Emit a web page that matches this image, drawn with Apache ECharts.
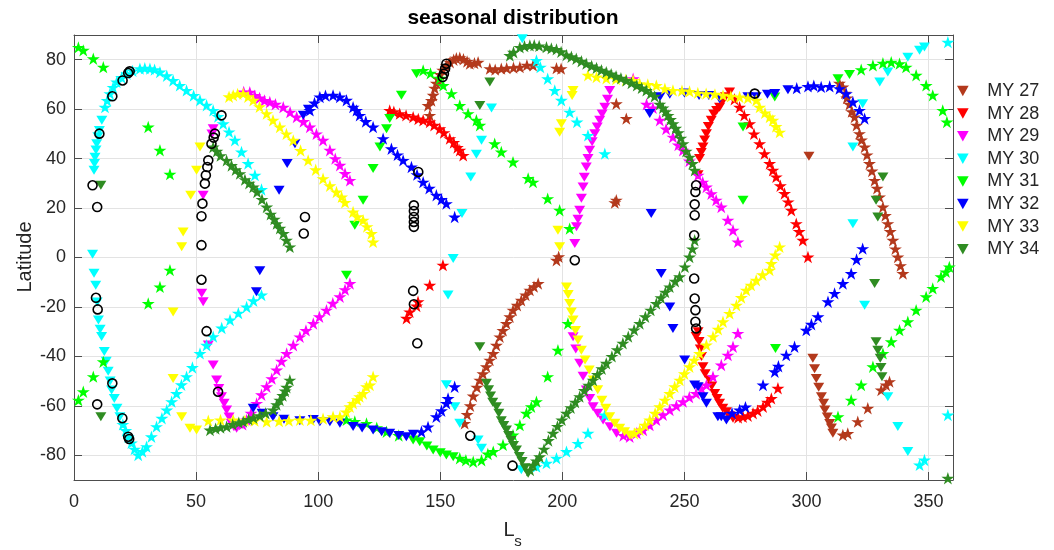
<!DOCTYPE html>
<html>
<head>
<meta charset="utf-8">
<script src="https://cdn.jsdelivr.net/npm/echarts@6/dist/echarts.min.js"></script>
<style>
  html, body { margin: 0; padding: 0; background: #fff; }
  #chart { width: 1054px; height: 550px; }
</style>
</head>
<body>
<div id="chart"></div>
<script>
// Mars years shown in the legend
const years = ['MY 27', 'MY 28', 'MY 29', 'MY 30', 'MY 31', 'MY 32', 'MY 33', 'MY 34'];
const colors = ['#B3391C', '#FF0000', '#FF00FF', '#00FFFF', '#00FF00', '#0000FF', '#FFFF00', '#2F8C22'];

const lsTicks = [0, 50, 100, 150, 200, 250, 300, 350];
const latTicks = [-80, -60, -40, -20, 0, 20, 40, 60, 80];

// every point is [Ls, latitude]
const my27Tri = [[301,41],[302.6,-40.8],[303.3,-45],[304,-48.9],[305,-52.5],[306.1,-56.3],[307,-59],[307.5,-61.7],[308.5,-64.5],[309.5,-67.1],[310.2,-69],[310.8,-71.1]];
const my27Star = [[145,61.5],[145.7,57.5],[146.4,63.5],[147.1,65.6],[147.7,68.5],[148.4,70.5],[149.1,72.3],[150,74],[151,75.8],[152.5,77.7],[154,79],[155.5,80],[156.6,80.6],[158,80.8],[159.5,80.2],[161,79.3],[162.1,78.4],[164,78.6],[165.5,79],
  [170.3,76.4],[172.5,76],[175,76.4],[177.2,76.6],[180,76.8],[182.6,77],[185.5,77.8],[188,77.7],[197.6,76.6],[199.5,76.4],
  [197.6,-1.1],[198.5,0.3],[222.1,62.2],[226.2,56.2],[222.1,23.2],[221.5,22.2],
  [160,-67.1],[161,-63.5],[162.3,-60],[163.5,-56],[165,-52.5],[166.2,-49.6],[167.5,-47],[168.9,-44.2],[170.3,-41.5],[171.7,-38.8],[173,-35.5],[174.4,-32.1],[175.7,-29.5],[177.1,-26.7],[178.5,-24],[179.8,-21.3],[181.5,-19.3],[183.2,-17.3],[185,-15.2],[186.7,-13.2],[188.4,-11.8],[190.1,-10.5],
  [313.5,70.5],[314.9,69],[315.8,66.5],[316.5,64.5],[317.6,62],[318.5,59],[319.7,56.8],[320.5,53.5],[321.7,50.1],[322.5,47.5],[323.8,44.7],[324.8,41.5],[325.8,38],[326.8,35],[327.9,31.2],[328.9,28],[329.9,24.5],[331.3,20.4],[332.3,17],[333.3,13.7],[334.3,10.5],[335.4,7],[336.4,3.5],[337.4,0.2],[338.5,-3.3],[339.5,-6.5],
  [314.9,-71.8],[316.9,-71.2],[321,-66.4],[325.1,-61],[330.6,-53.6],[332.6,-51.6],[334,-50.2]];

const my28Tri = [[255.6,33.5],[256.2,40],[256.9,42.5],[257.6,44.7],[258.3,47.5],[259,50.1],[259.8,53],[261,55.5],[262,58],[263.2,59.5],[264.4,60.8],[265.5,63],[266.8,65],[268.5,66.9],
  [254.8,-32],[255.6,-30],[256,-34],[256.5,-37],[257,-40],[257.6,-44.2],[258.5,-47],[260.3,-49.6],[261.2,-52],[262.4,-55],[263.4,-57],[264.4,-59],[265.7,-61],[267.2,-62.4],[268.5,-64],[269.9,-65]];
const my28Star = [[129.3,59.5],[131,59],[133.4,58.2],[136,57.5],[138.9,56.8],[141,56],[143,55.5],[145.7,54.8],[147.5,53.5],[149.8,52.1],[151.5,50.5],[153.9,48.1],[155.5,46.5],[157,44.5],[158,43.4],[159.4,41.3],
  [151.1,-3.1],[145.7,-11.2],[140.9,-17.9],[140.3,-19.6],[137.5,-22],[136.2,-24.6],
  [270.5,64],[272.6,60.8],[274.5,57.5],[276.7,54.1],[278.5,50],[280.8,46],[282.8,42],[284.9,38],[286.2,35.3],[287.6,32.6],[289.3,29],[291,25.9],[292.5,22.5],[293.8,19.1],[295.8,13.7],[297,10.5],[298.5,7],[300.6,0.2],
  [272,-64.7],[274,-64.4],[276,-64],[278.1,-63],[280,-62],[282.2,-60.4],[284,-58.5],[285.6,-57],[288.3,-52.9]];

const my29Tri = [[57,52.1],[56.5,50],[52.9,25.2],[52.3,-14.5],[52.9,-17.9],[55,-35.4],[57,-43.5],[58.4,-49.6],[59.3,-53],[60.4,-56.3],[61.5,-59],[62.5,-61.7],[63.5,-64.5],[64.5,-67.1],[65.5,-68.5],[66.6,-69.1],
  [219.4,67.6],[218.5,64],[217.4,60.8],[216.3,58],[215.3,55.5],[214.3,52.8],[213.3,50.1],[212.2,46.8],[211.2,43.4],[210.5,40],[209.8,36.6],[209,32.5],[208.5,28.5],[207.8,24],[207.1,19.1],[206.4,15.5],[205.8,12.4],[205.1,5.7],
  [204.4,-32.1],[205.5,-37],[207.1,-42.8],[208.5,-48],[209.8,-53.6],[211.2,-57],[212.6,-60.4],[214.5,-63],[216.7,-65.7],[219.5,-68.5],[222.2,-71.1]];
const my29Star = [[69.5,67],[72,66.9],[74,65.5],[76,64.5],[78,63.5],[80.2,62.9],[82.5,62],[85.7,60.8],[88.5,58.8],[91.2,56.8],[94,55],[96.6,52.8],[99.3,50],[102,47.4],[104.8,43.4],[107,40],[108.9,37.3],[111,34],[113,31.2],
  [69,-67.5],[70.7,-65.7],[72.5,-63],[74.8,-59],[76.8,-55.5],[78.9,-52.3],[81,-49],[83,-45.5],[85,-42],[87.1,-38.8],[89.8,-35.5],[92.5,-32.1],[95,-29.5],[98,-26.7],[100.5,-24],[103.4,-21.3],[106,-18.5],[108.9,-15.9],[111,-13],[113,-10.5],
  [229,72.3],[234.5,62],[237.1,60.5],[239.9,55.5],[242.5,52],[245.3,48.7],[247.5,45.5],[249.4,43.4],[252,39],[255.6,33.3],[257.5,30.5],[259,28.5],[261,25.8],[263,23.2],[265.1,20.4],[267.8,15.1],[269.9,11],[271.9,6.3],
  [225,-72],[227.6,-72.5],[230.5,-71],[233.1,-69.8],[235.8,-67.8],[238.5,-65.7],[241.2,-63.6],[244,-61.7],[246.7,-60],[249.4,-58.3],[252,-56.5],[254.8,-55],[257,-53],[259,-51.6],[261.7,-48.2],[265.1,-43.5],[267.8,-39.5],[269.9,-36.1],[271.9,-30.7]];

const my30Tri = [[8.2,35.3],[8.4,38],[8.6,40.6],[9,43.5],[9.3,46],[9.8,48.8],[10.4,51.4],[11.4,55.5],
  [7.6,1.3],[8.2,-6.4],[8.9,-11.2],[9.5,-18],[10,-25.3],[10.7,-29],[11.3,-32],[12.4,-38],[13.2,-42],[14,-46],[14.8,-50],[15.4,-53.6],[16.5,-57],[17.6,-61],[18.8,-64.4],
  [183.6,88.5],[171,60.5],[166.9,47.4],[164.8,41.8],[162.5,32.6],[158.9,17.8],[155.3,-0.4],[153.2,-15.2],[152.5,-51.5],[156,-60.4],[158,-67],[165.5,-73.8],[166.9,-77.2],[183.2,-85.9],
  [323,62.2],[319,44.7],[319,13.7],[330,71],[333.3,75],[341.5,81],[346.3,83.8],[348.3,85.1],[323.8,-19.3],[333.3,-56.3],[337.4,-68.4],[341.5,-78.5]];
const my30Star = [[20,-67.5],[21.2,-70],[22.2,-72.5],[23.5,-75],[24.8,-77.5],[26.3,-79.9],[28,-78.5],[29.7,-76.5],[31.7,-72.5],[33.8,-68.4],[36,-65],[38,-61.7],[40,-58.3],[42,-55],[44,-51.5],[46.1,-48.2],[48.5,-44.5],[51.6,-38.8],[54.3,-35.5],[57,-32],[60.5,-28.5],[63.9,-25.3],[67.3,-22.5],[70.7,-20],[73.5,-17.5],[76.8,-15.2],
  [12.7,60.8],[13.6,63.5],[14.7,66.3],[16,68.8],[17.5,71],[19.5,72.8],[21.6,74.3],[24,75.5],[27,76.4],[29,76.6],[31.1,76.4],[33,76],[35.2,75],[38,73.5],[40.6,71.6],[43.3,69.6],[46.1,67.6],[49,65.5],[51.6,63.6],[54.3,61.6],[57,59.5],[59,57],[61.1,54.1],[63.5,50.8],[65.9,47.4],[68.6,42.7],[71.3,38],[74.1,33.3],[76.8,27.5],
  [189.4,79.7],[191,77],[194,72.3],[196.9,67.6],[199.6,63.6],[203,58.8],[206,54.8],[210.5,49.4],[217.4,42],
  [189.4,-84.6],[193.5,-83.2],[197.6,-81.2],[201.7,-78.5],[206.4,-75.2],[210.5,-71.1],[217.4,-63.7],
  [357.9,87.1],[346.3,-83.9],[348.3,-81.9],[357.9,-63.7]];

const my31Tri = [[111.6,-7.2],[115,13],[118.4,23.2],[122.5,36],[125.3,44.7],[128,52.1],[129.3,56.2],[134.1,65.6],[140.3,74.3],
  [138.9,-73.8],[141.6,-74.5],[144.5,-76.2],[147.1,-77.9],[150,-79],[152.5,-79.9],[155.3,-80.6],
  [274,52.8],[274,23.2],[287,64.9],[287.3,-36.8],[312.9,72.3],[317.6,74]];
const my31Star = [[1.8,85],[3.8,83.8],[7.9,80.4],[12,77],[30.4,52.8],[35.2,43.4],[39.3,33.7],[39.3,-5.1],[35.2,-11.9],[30.4,-18.6],[12,-42.2],[7.9,-48.2],[3.8,-54.3],[1.8,-57.7],
  [111.6,-65.7],[115,-66.3],[119.8,-67.1],[124,-68.8],[128,-70.5],[133,-72],[158,-81.2],[160.5,-82],[163.5,-82.6],[166.9,-82],
  [169.5,-79.5],[171.7,-78.5],[175.7,-75.8],[179.8,-71.8],[182.6,-67.8],[185.3,-63],[187.3,-60.4],[189.4,-58.3],[194,-48.2],[198.2,-37.5],[202.3,-26.7],
  [203,11.7],[198.9,19.1],[194,23.8],[188,30.5],[186,32],[179.8,38.6],[175,42.7],[172.3,46],[166.2,53.5],[164.8,55.5],[161.4,58.2],[158,61.5],[154.6,66.3],[151.2,69.6],[149.8,72.5],[146,74.5],[143,75.7],
  [322.4,76],[327.2,77.7],[331.3,78.6],[334.7,79],[338.1,78.4],[340.8,77],[344.9,73.7],[349,69.6],[351.7,65.6],[355.8,59.5],[357.5,54.8],
  [312.9,-64.4],[318.3,-57.7],[322.4,-51.6],[327.2,-44.2],[331.3,-38.8],[334.7,-34.1],[338.1,-29.4],[341.5,-26],[344.9,-21.3],[349,-15.9],[351.7,-12.5],[355.1,-7.8],[357.1,-5.8],[358.5,-3.8]];

const my32Tri = [[93.9,57.5],[96,60],[90.5,46],[87.3,38],[84,27.2],[76.1,-5.4],[74.7,-13.9],
  [73.4,-61],[77,-63],[81.5,-64.4],[86,-65.4],[92.5,-66],[98,-65.5],[100.7,-66.4],[104.8,-66.4],[108.9,-67],[114.3,-68.4],[118,-69],[122.5,-69.8],[126,-70.5],[129.3,-71.1],[133,-72],[136.1,-72.5],[139,-71.5],
  [235.8,58.2],[236.4,17.8],[240,65],[244,66],[250,66.5],[256,65.5],[260,65.5],[264.4,64.2],[276,65],[279.4,65],[284,66],[287,66.3],[292.4,67.9],
  [240.5,-6.5],[244,-20],[245.3,-28.7],[250.1,-41.5],[254.2,-51.6],[255.6,-52.3],[257.6,-56.3],[259,-59],[263.7,-64.4],[265.1,-64.4],[267.2,-65.7]];
const my32Star = [[96.6,59.5],[98.5,62.5],[100.7,64.9],[103,65.5],[106.1,65.6],[108.9,64.9],[111.6,63.6],[114.3,60.8],[115.7,59.5],[117,57.5],[119.5,55],[122.5,52.8],[126.6,48.1],[130,44],[132.5,41.5],[134.8,39.3],[138.2,36.6],[140.5,33.5],[143,30.5],[145.5,28],[148.4,25.2],[150.5,23.5],[152.5,21.8],[155.9,16.4],
  [142.3,-70.5],[145,-68.5],[148.4,-64.4],[150.5,-62],[152.5,-59],[153.2,-57],[155.9,-52.3],
  [296,68.5],[300.6,69.2],[303,69.5],[306,69],[309.5,69.2],[313.5,68.3],[316.3,66.3],[319,62.9],[321.7,59.5],[323.8,56.2],
  [269.5,-63],[272.6,-61.7],[275,-60.5],[282.2,-51.6],[287,-46.2],[288.5,-44],[291.7,-39.5],[295.1,-36.1],[299.9,-29.4],[302,-27],[304.7,-24],[308.8,-17.9],[311.5,-14.5],[314.9,-10.5],[318.3,-6.5],[320.5,-0.8],[323,3.6]];

const my33Tri = [[50.2,35.3],[51.6,44.7],[47.8,25.2],[44.7,10.3],[44.1,4.3],[40.6,-22],[40.6,-48.9],[44.1,-64.4],[47.5,-69.1],[50.2,-69.8],
  [204.4,67.6],[204,65.5],[199.6,54.1],[198.9,50.7],[198.2,11],[198.9,4.3],
  [201.7,-11.9],[202.4,-15],[203,-18.6],[203.7,-22],[204.4,-25.3],[205.4,-29.5],[206.4,-33.4],[207.8,-37.5],[209.3,-41.5],[211,-45.5],[212.7,-49.6],[214.5,-53.5],[216.2,-57.7],[217.8,-61],[219.4,-64.4],[221.5,-67],[223.5,-69.1],[225.5,-70.5],[227.6,-71.8]];
const my33Star = [[63.5,65],[65.2,65.6],[67,66.2],[69.3,66.3],[71.3,65],[73.4,63.6],[76,61],[78.9,58.2],[81.5,55.5],[84.3,52.8],[87,50],[89.8,47.4],[92.8,43.3],[95.9,39.3],[99,35.5],[102,31.9],[104.8,29],[107.5,26.5],[109.6,24.5],[111,22.3],[114.3,18.4],[116,16.5],[118.4,15.1],[120,12.5],[121.8,9.7],[122.5,6.3],
  [55,-66],[60,-65.7],[65.2,-65.7],[70,-66],[74,-66],[78.9,-66.4],[84,-66.2],[88,-66],[92.5,-65.7],[97,-65.8],[102,-65.2],[106.1,-64.4],[108.9,-64.4],[111.5,-62.5],[113,-60.4],[114.3,-59],[116,-57.5],[117,-56.3],[118.4,-55],[119.8,-52.3],[121.2,-51.6],[122.5,-48.2],
  [229.5,-71.2],[231.7,-69.8],[233.8,-67.8],[235.8,-65.7],[238,-63],[239.9,-60.4],[242,-57.7],[244,-55],[246,-52.3],[248.1,-49.6],[250,-47],[252.1,-44.2],[254,-41.5],[256.2,-38.8],[259,-35.4],[261.7,-32],[263.8,-29],[265.8,-26],[268.5,-22.6],[271.3,-19.3],[273.3,-16.2],[275.3,-13.2],[277.3,-11.2],[279.4,-9.2],[282,-7],[284.9,-5.1],[285.6,-2.4],[287.2,1],[289,4.3],
  [210.5,73.7],[214,73],[218,72.5],[222,72.2],[226,71.8],[229,71.6],[231.7,70.3],[235,70],[238.5,69.6],[242,68.3],[245.3,67.6],[249,67.5],[252.1,67.2],[255.5,66.6],[258.9,66.3],[262.5,66],[265.8,65.6],[269,65.2],[272.6,64.9],[276,64.5],[279.4,63.6],[280.8,60.8],[283,58.5],[284.9,56.8],[286.2,55.5],[287.5,53],[289,50.7]];

const my34Tri = [[11,29.2],[11,-64.4],[170.3,71],[166.2,61.5],[166.2,-36.1],
  [168.9,-50.9],[169.8,-53.5],[170.6,-56],[171.5,-58.5],[173,-60.4],[174,-63],[175,-66],[176,-68],[177.1,-69.8],[178,-72],[179,-74],[180,-76],[181.2,-77.9],[182.4,-80.5],[183.5,-82.5],[184.7,-85],[186,-87.3],
  [331.3,32.6],[328.5,23.2],[329.2,16.4],[327.9,-10.5],[328.5,-34.1],[329.2,-37.5],[330.2,-40.8],[330.5,-44.5],[330.9,-48.2]];
const my34Star = [[57,44.7],[58.5,43],[60,41.2],[62.5,39.3],[64.5,37.2],[66.2,35.5],[67.9,33.9],[70,31.5],[71.7,30],[73.4,28.5],[75,26.5],[77,23.5],[78.9,20.4],[80.5,17.5],[82,15.5],[83,13.7],[84.3,11.8],[85.7,9.7],[87,7],[88.4,4.3],
  [55.7,-69.8],[58,-69.2],[60,-68.8],[62.5,-68.4],[65,-67.5],[67.5,-66.8],[69.3,-66.4],[71.5,-65.5],[73.5,-64.8],[76.1,-64],[78.5,-63],[81.6,-61.7],[83,-59.5],[84.3,-57.7],[85.5,-55.8],[86.5,-54],[87.1,-52.5],[88.4,-49.6],
  [178.5,81.7],[180,83],[182.6,85],[184.5,85.5],[186.7,85.8],[188.5,85.9],[190.5,85.6],[193.5,85.1],[195.5,84.6],[197.6,84.2],[199.5,83.2],[201.7,81.9],[203.7,81.2],[205.7,80.4],[207.8,79.4],[209.8,78.4],[212,77.5],[214,76.7],[216,75.8],[218,75],[220,74.2],[222,73.3],[224,72.5],[226.2,71.6],[228.3,70.6],[230.5,69.6],[232.5,68.6],[234.4,67.6],[236.2,66.3],[237.8,65.2],[239.9,62],[241.2,60.5],[242.3,59],[243.3,57.5],[244.3,55.8],[245.3,54.1],[246.4,52.3],[247.5,50.5],[248.5,48.3],[249.4,46],[250.7,43],[252.1,40.6],[253.3,38],[254.2,35.3],
  [186.8,-86],[188,-84],[189.4,-82.3],[190.7,-80.6],[192.5,-77.5],[194.3,-74],[196.2,-71.1],[198,-68.3],[199.8,-65.7],[201.7,-63],[203.5,-60.8],[205.3,-58.5],[207.1,-56.3],[209,-53.8],[210.8,-51.7],[212.6,-49.6],[214.4,-47.3],[216.2,-45],[218,-42.8],[220.3,-40],[222.5,-37.3],[224.8,-34.7],[227,-32],[229.4,-29.3],[231.7,-26.7],[234,-24],[236.2,-21.3],[238.5,-18.6],[240.4,-16.3],[242.2,-14],[244,-11.9],[246.2,-9.6],[248,-7.8],[250.2,-3.8],[252.1,0.2],[253.3,3.5],[254.2,7],
  [357.9,-89.3]];

// black open circles (not in legend)
const obsCircles = [[7.6,29.2],[9.5,20.4],[10.4,50.1],[15.7,65.2],[19.9,71.6],[22.2,74.6],[22.8,75.3],[60.4,57.5],[57.7,50.1],[57.2,48.5],[56.3,46],[55,39.3],[54.6,36.6],[54,33.3],[53.6,29.9],[52.6,21.8],[52.2,16.7],[52.2,5],[52.2,-9],[54.3,-29.8],[59,-54.3],
  [9,-16.3],[9.7,-21],[15.7,-50.9],[9.5,-59.4],[19.8,-65],[22.2,-72.5],[22.6,-73.4],[94.6,16.4],[94.1,9.7],
  [152.5,78.4],[152,76.4],[151.5,74.3],[151,73],[141,34.6],[139.2,21.1],[139.2,18.8],[139.2,16.4],[139.2,14.4],[139.2,12.4],[138.9,-13.5],[139.2,-18.9],[140.6,-34.7],[162.3,-72.1],[179.6,-84.2],[205.1,-1.1],
  [254.8,29.2],[254.5,26.5],[254.2,21.5],[254.2,17.1],[254,9],[254,-8.5],[254.2,-16.6],[254.5,-21.3],[254.5,-26],[254.8,-28.7],[278.8,66.3]];

const triData = [my27Tri, my28Tri, my29Tri, my30Tri, my31Tri, my32Tri, my33Tri, my34Tri];
const starData = [my27Star, my28Star, my29Star, my30Star, my31Star, my32Star, my33Star, my34Star];

const font = '"Liberation Sans", Arial, sans-serif';
const triPath = 'path://M0,0L10,0L5,9Z';
const starPath = 'path://M0,-10L2.245,-3.09L9.511,-3.09L3.633,1.18L5.878,8.09L0,3.82L-5.878,8.09L-3.633,1.18L-9.511,-3.09L-2.245,-3.09Z';
const axisColor = '#4d4d4d';

let series = [];
years.forEach((name, i) => {
  series.push({
    type: 'scatter', name: name, data: triData[i],
    symbol: triPath, symbolSize: [11, 10], symbolKeepAspect: true,
    itemStyle: { color: colors[i], opacity: 1 },
    emphasis: { disabled: true }
  });
  series.push({
    type: 'scatter', name: name, data: starData[i],
    symbol: starPath, symbolSize: 13, symbolKeepAspect: true,
    itemStyle: { color: colors[i], opacity: 1 },
    emphasis: { disabled: true }
  });
});
series.push({
  type: 'scatter', name: 'obs', data: obsCircles,
  symbol: 'circle', symbolSize: 9,
  itemStyle: { color: 'rgba(0,0,0,0)', borderColor: '#000', borderWidth: 1.6, opacity: 1 },
  emphasis: { disabled: true }
});

const boxAxis = (pos, min, max, ticks) => ({
  type: 'value', position: pos, min: min, max: max,
  axisLine: { show: true, onZero: false, lineStyle: { color: axisColor, width: 1 } },
  axisTick: { show: true, inside: true, length: 8, customValues: ticks, lineStyle: { color: axisColor } },
  axisLabel: { show: false },
  splitLine: { show: false }
});

const myChart = echarts.init(document.getElementById('chart'));
myChart.setOption({
  animation: false,
  backgroundColor: '#fff',
  grid: { left: 74, right: 101, top: 35, bottom: 70, containLabel: false },
  legend: {
    orient: 'vertical', left: 952, top: 77,
    itemWidth: 39, itemHeight: 10.5, itemGap: 4.6,
    symbolKeepAspect: true, selectedMode: false,
    textStyle: { fontSize: 18, color: '#262626', fontFamily: font },
    data: years.map(n => ({ name: n, icon: triPath }))
  },
  xAxis: [
    {
      type: 'value', position: 'bottom', min: 0, max: 360,
      axisLine: { show: true, onZero: false, lineStyle: { color: axisColor, width: 1 } },
      axisTick: { show: true, inside: true, length: 8, customValues: lsTicks, lineStyle: { color: axisColor } },
      axisLabel: { fontSize: 18, color: '#262626', fontFamily: font, margin: 13, customValues: lsTicks },
      splitLine: { show: true, lineStyle: { color: '#e3e3e3', width: 1 } }
    },
    boxAxis('top', 0, 360, lsTicks)
  ],
  yAxis: [
    {
      type: 'value', position: 'left', min: -90, max: 90,
      axisLine: { show: true, onZero: false, lineStyle: { color: axisColor, width: 1 } },
      axisTick: { show: true, inside: true, length: 8, customValues: latTicks, lineStyle: { color: axisColor } },
      axisLabel: { fontSize: 18, color: '#262626', fontFamily: font, margin: 8, customValues: latTicks },
      splitLine: { show: true, lineStyle: { color: '#e3e3e3', width: 1 } }
    },
    boxAxis('right', -90, 90, latTicks)
  ],
  graphic: [
    { type: 'text', x: 513, y: 18, style: { text: 'seasonal distribution', fontSize: 21, fontWeight: 'bold', fontFamily: font, fill: '#000', align: 'center', verticalAlign: 'middle' } },
    { type: 'text', x: 509, y: 530, style: { text: 'L', fontSize: 20, fontFamily: font, fill: '#262626', align: 'center', verticalAlign: 'middle' } },
    { type: 'text', x: 518, y: 542, style: { text: 's', fontSize: 15, fontFamily: font, fill: '#262626', align: 'center', verticalAlign: 'middle' } },
    { type: 'text', x: 25, y: 257, rotation: Math.PI / 2, style: { text: 'Latitude', fontSize: 20, fontFamily: font, fill: '#262626', align: 'center', verticalAlign: 'middle' } }
  ],
  series: series
});
</script>
</body>
</html>
